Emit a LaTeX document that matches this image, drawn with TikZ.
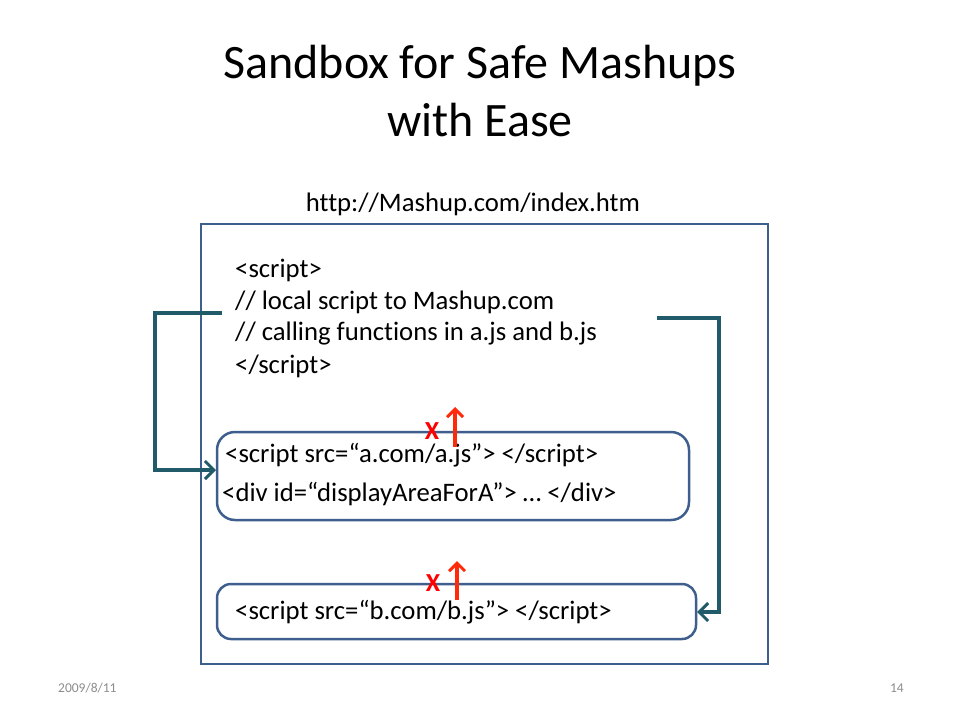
\documentclass[tikz,border=0pt]{standalone}
\usepackage{fontspec}
\setmainfont[Ligatures=NoCommon]{Carlito}
\usetikzlibrary{arrows.meta}
\definecolor{boxblue}{HTML}{3E5F8E}
\definecolor{teal}{HTML}{215A69}
\definecolor{xred}{HTML}{FF0000}
\definecolor{ared}{HTML}{FF2A0A}
\definecolor{footgray}{HTML}{8C8C8C}
\tikzset{
  code/.style={anchor=west,inner sep=0pt,font=\fontsize{26.7}{32}\selectfont},
  frame/.style={draw=boxblue,line width=2.5pt},
  conn/.style={draw=teal,line width=4pt,-{Straight Barb[length=9pt,width=18pt,line width=3pt]}},
  upar/.style={draw=ared,line width=3.5pt,-{Straight Barb[length=8pt,width=16pt,line width=3pt]}},
  xmark/.style={text=xred,inner sep=0pt,font=\bfseries\fontsize{26}{28}\selectfont},
  foot/.style={text=footgray,inner sep=0pt,font=\fontsize{13.5}{16}\selectfont},
}
\begin{document}
\begin{tikzpicture}[x=1pt,y=-1pt]
\useasboundingbox (0,0) rectangle (960,720);
\node[font=\fontsize{48}{58}\selectfont,align=center] (title) at (480,91) {Sandbox for Safe Mashups\\with Ease};
\node[inner sep=0pt,font=\fontsize{26.7}{32}\selectfont] (url) at (473,204) {http://Mashup.com/index.htm};
\node[frame,minimum width=567pt,minimum height=440pt,inner sep=0pt] (outer) at (484.5,444) {};
\node[code] (s1) at (235,270) {<script>};
\node[code] (s2) at (235,302) {// local script to Mashup.com};
\node[code] (s3) at (235,334) {// calling functions in a.js and b.js};
\node[code] (s4) at (235,366) {</script>};
\node[frame,rounded corners=18pt,minimum width=472pt,minimum height=88pt,inner sep=0pt] (boxa) at (453,476) {};
\node[code] (a1) at (225,455) {<script src=“a.com/a.js”> </script>};
\node[code] (a2) at (222,494) {<div id=“displayAreaForA”> … </div>};
\node[frame,rounded corners=14pt,minimum width=479pt,minimum height=55pt,inner sep=0pt] (boxb) at (456.5,611.5) {};
\node[code] (b1) at (235,612) {<script src=“b.com/b.js”> </script>};
\coordinate (lstart) at (222,313);
\coordinate (lend) at (216,470);
\coordinate (rstart) at (657,318);
\coordinate (rend) at (697,612);
\draw[conn] (lstart) -- (155,313) -- (155,470) -- (lend);
\draw[conn] (rstart) -- (719,318) -- (719,612) -- (rend);
\node[xmark] (xa) at (432,431) {X};
\coordinate (aa0) at (455,447);
\coordinate (aa1) at (455,407);
\draw[upar] (aa0) -- (aa1);
\node[xmark] (xb) at (433,583) {X};
\coordinate (ab0) at (457,600);
\coordinate (ab1) at (457,561);
\draw[upar] (ab0) -- (ab1);
\node[foot,anchor=west] (date) at (58,688) {2009/8/11};
\node[foot,anchor=east] (page) at (904,688) {14};
\end{tikzpicture}
\end{document}
